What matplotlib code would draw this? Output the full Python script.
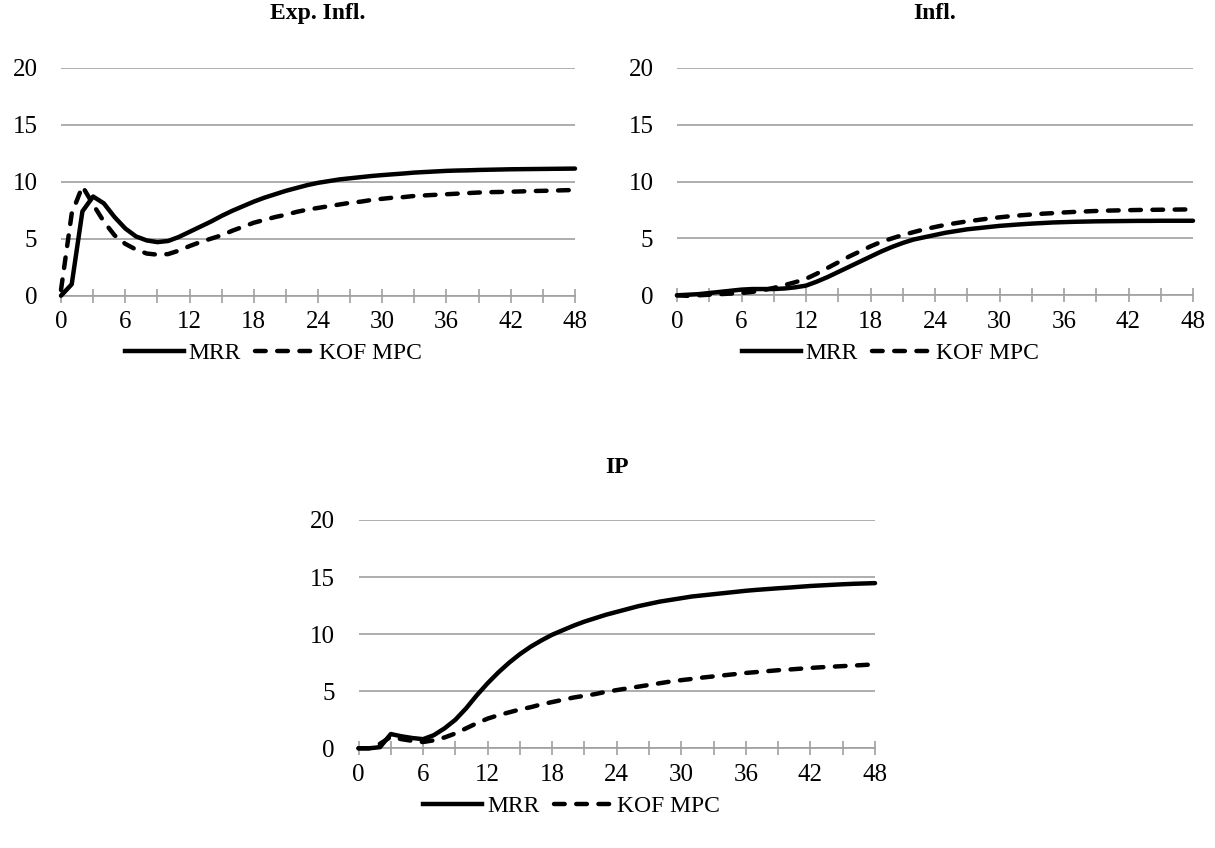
import matplotlib
matplotlib.use("Agg")
import matplotlib.pyplot as plt
from matplotlib.ticker import MultipleLocator
from matplotlib.lines import Line2D

plt.rcParams['font.family'] = ['Liberation Serif', 'DejaVu Serif']

months = list(range(49))

exp_mrr = [0, 1.0, 7.4, 8.7, 8.1, 6.9, 5.9, 5.2, 4.85, 4.7, 4.8, 5.15, 5.6, 6.05, 6.5,
           7.0, 7.45, 7.85, 8.25, 8.6, 8.9, 9.2, 9.45, 9.7, 9.9, 10.05, 10.2, 10.3, 10.4,
           10.5, 10.58, 10.65, 10.72, 10.8, 10.85, 10.9, 10.95, 10.98, 11.0, 11.03, 11.05,
           11.07, 11.09, 11.1, 11.11, 11.12, 11.13, 11.14, 11.15]
exp_kof = [0.5, 7.2, 9.6, 8.0, 6.5, 5.3, 4.55, 4.05, 3.7, 3.6, 3.65, 3.95, 4.35, 4.7, 5.0,
           5.3, 5.7, 6.05, 6.4, 6.65, 6.9, 7.1, 7.35, 7.55, 7.7, 7.85, 8.0, 8.15, 8.25,
           8.4, 8.5, 8.6, 8.65, 8.75, 8.8, 8.85, 8.9, 8.95, 9.0, 9.05, 9.08, 9.1, 9.12,
           9.15, 9.18, 9.2, 9.22, 9.25, 9.27]

infl_mrr = [0, 0.05, 0.1, 0.2, 0.3, 0.4, 0.5, 0.55, 0.55, 0.55, 0.6, 0.7, 0.85, 1.2, 1.6,
            2.05, 2.5, 2.95, 3.4, 3.85, 4.25, 4.6, 4.9, 5.1, 5.3, 5.5, 5.65, 5.8, 5.9,
            6.0, 6.1, 6.17, 6.24, 6.3, 6.35, 6.4, 6.43, 6.46, 6.48, 6.5, 6.51, 6.52, 6.53,
            6.54, 6.54, 6.55, 6.55, 6.55, 6.55]
infl_kof = [0, -0.05, 0.0, 0.05, 0.1, 0.15, 0.2, 0.3, 0.45, 0.65, 0.9, 1.15, 1.45, 1.9, 2.4,
            2.9, 3.4, 3.85, 4.3, 4.7, 5.0, 5.3, 5.55, 5.8, 6.0, 6.2, 6.35, 6.5, 6.62,
            6.75, 6.85, 6.95, 7.03, 7.1, 7.17, 7.22, 7.28, 7.33, 7.37, 7.41, 7.44, 7.46, 7.48,
            7.5, 7.51, 7.52, 7.53, 7.54, 7.55]

ip_mrr = [0, 0, 0.1, 1.25, 1.05, 0.9, 0.8, 1.15, 1.75, 2.5, 3.5, 4.65, 5.7, 6.65, 7.5,
          8.25, 8.9, 9.45, 9.95, 10.35, 10.75, 11.1, 11.4, 11.7, 11.95, 12.2, 12.45, 12.65,
          12.85, 13.0, 13.15, 13.3, 13.4, 13.5, 13.6, 13.7, 13.8, 13.88, 13.95, 14.02, 14.08,
          14.15, 14.22, 14.27, 14.32, 14.37, 14.41, 14.44, 14.47]
ip_kof = [0, 0, 0.4, 1.0, 0.8, 0.65, 0.55, 0.7, 0.95, 1.3, 1.75, 2.2, 2.6, 2.9, 3.15,
          3.4, 3.6, 3.85, 4.05, 4.25, 4.45, 4.6, 4.75, 4.95, 5.1, 5.25, 5.4, 5.55, 5.7,
          5.85, 5.97, 6.08, 6.2, 6.3, 6.4, 6.5, 6.6, 6.68, 6.76, 6.84, 6.9, 6.97, 7.04,
          7.1, 7.15, 7.2, 7.25, 7.3, 7.36]

titles = ["Exp. Infl.", "Infl.", "IP"]
series_names = ["MRR", "KOF MPC"]

W, H = 1215, 848
fig = plt.figure(figsize=(W / 100, H / 100), dpi=100)

def px_axes(x0, x1, ytop, ybot):
    return fig.add_axes([x0 / W, 1 - ybot / H, (x1 - x0) / W, (ybot - ytop) / H])

grid_col = "#a0a0a0"
dash = (0, (2.4, 2.6))
panels = [
    (px_axes(61, 575, 67.7, 295.7), titles[0], exp_mrr, exp_kof, 35),
    (px_axes(677, 1193, 67.7, 295.3), titles[1], infl_mrr, infl_kof, 35),
    (px_axes(358.5, 875, 520, 748.3), titles[2], ip_mrr, ip_kof, 34),
]

for ax, title, mrr, kof, tpad in panels:
    ax.plot(months, mrr, color="black", lw=3.2, solid_capstyle="round",
            solid_joinstyle="round", clip_on=False, zorder=4)
    ax.plot(months, kof, color="black", lw=3.2, linestyle=dash,
            dash_capstyle="round", clip_on=False, zorder=4)
    ax.set_xlim(0, 48)
    ax.set_ylim(0, 20)
    ax.xaxis.set_major_locator(MultipleLocator(6))
    ax.xaxis.set_minor_locator(MultipleLocator(3))
    ax.yaxis.set_major_locator(MultipleLocator(5))
    ax.grid(axis="y", color=grid_col, lw=1.2)
    ax.set_axisbelow(True)
    for s in ["top", "left", "right"]:
        ax.spines[s].set_visible(False)
    ax.spines["bottom"].set_color(grid_col)
    ax.spines["bottom"].set_linewidth(1.2)
    ax.tick_params(axis="x", which="both", direction="inout", length=10,
                   width=1.2, color=grid_col, labelsize=18, pad=6)
    ax.tick_params(axis="y", length=0, labelsize=18, pad=17)
    ax.set_title(title, fontsize=17, fontweight="bold", pad=tpad)

    bb = ax.get_position()
    cx = (bb.x0 + bb.x1) / 2 - 45 / W
    cy = bb.y0 - 58 / H
    handles = [Line2D([], [], color="black", lw=3.2),
               Line2D([], [], color="black", lw=3.2, linestyle=dash,
                      dash_capstyle="round")]
    fig.legend(handles, series_names, loc="center", bbox_to_anchor=(cx, cy),
               ncol=2, frameon=False, fontsize=17, handlelength=2.5,
               handletextpad=0.2, columnspacing=0.6)

fig.savefig("out.png", dpi=100)
